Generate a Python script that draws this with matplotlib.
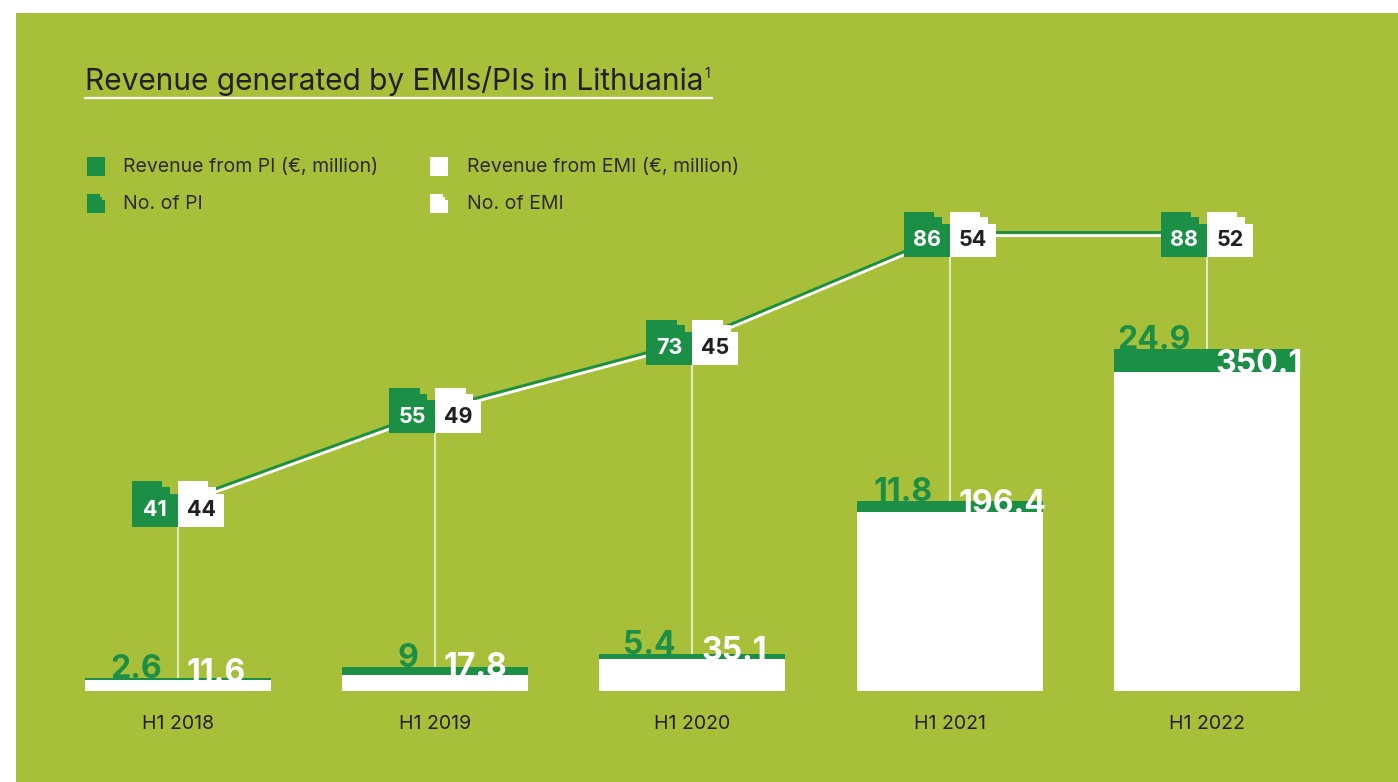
import numpy as np
import matplotlib
matplotlib.use("Agg")
import matplotlib.pyplot as plt
import matplotlib.transforms as mtransforms
from matplotlib.patches import Rectangle, Polygon
from matplotlib.lines import Line2D

plt.rcParams['font.family'] = ['Inter', 'DejaVu Sans']

periods = ["H1 2018", "H1 2019", "H1 2020", "H1 2021", "H1 2022"]
rev_pi = [2.6, 9, 5.4, 11.8, 24.9]
rev_emi = [11.6, 17.8, 35.1, 196.4, 350.1]
no_pi = [41, 55, 73, 86, 88]
no_emi = [44, 49, 45, 54, 52]

bg = "#A8BF3A"
green = "#1C8F47"
dark = "#231F20"

W, H = 1398, 782
fig = plt.figure(figsize=(W/100, H/100), dpi=100, facecolor="white")

def px(x, y):
    # pixel (from top-left) -> figure fraction
    return x/W, 1 - y/H

fig.add_artist(Rectangle((16/W, 0), 1, 1 - 13/H, transform=fig.transFigure,
                         facecolor=bg, edgecolor="none", zorder=-10))

# counts axis (boxes, line) drawn under the revenue axis
ax = fig.add_axes([0, (H-691)/H, 1, 561/H])
ax.patch.set_visible(False)
ax.set_xlim(-0.692, 4.743)
ax.set_ylim(46.9, 161.2)
ax2 = ax.twinx()
ax2.set_ylim(0, 615)
for a in (ax, ax2):
    for s in a.spines.values():
        s.set_visible(False)
    a.set_yticks([])

x = np.arange(len(periods))
total_no = np.array(no_pi) + np.array(no_emi)
bw = 0.179   # width of one count box
bh = 9.17    # height of count box

# connecting line: green over white
t_up = mtransforms.offset_copy(ax.transData, fig=fig, x=0, y=1.6, units='dots')
t_dn = mtransforms.offset_copy(ax.transData, fig=fig, x=0, y=-1.6, units='dots')
ax.plot(x, total_no, color="white", lw=2.0, transform=t_dn, zorder=2, solid_capstyle='butt')
ax.plot(x, total_no, color=green, lw=2.0, transform=t_up, zorder=2, solid_capstyle='butt')

# thin vertical guides from box down to the bars
ax.vlines(x, 46.9, total_no - bh/2, color="white", lw=1.3, alpha=0.75, zorder=1)

def step_box(x0, yc, w, h):
    yt = yc + h/2
    yb = yc - h/2
    return [(x0, yb), (x0, yt), (x0 + 0.66*w, yt), (x0 + 0.66*w, yt - 0.13*h),
            (x0 + 0.83*w, yt - 0.13*h), (x0 + 0.83*w, yt - 0.27*h),
            (x0 + w, yt - 0.27*h), (x0 + w, yb)]

for i in range(len(periods)):
    yc = total_no[i]
    ax.add_patch(Polygon(step_box(x[i] - bw, yc, bw, bh), closed=True,
                         facecolor=green, edgecolor="none", zorder=3))
    ax.add_patch(Polygon(step_box(x[i], yc, bw, bh), closed=True,
                         facecolor="white", edgecolor="none", zorder=3))
    ax.text(x[i] - bw/2, yc - 1.3, str(no_pi[i]), ha="center", va="center",
            color="white", fontsize=15.5, fontweight="bold", zorder=4)
    ax.text(x[i] + bw/2, yc - 1.3, str(no_emi[i]), ha="center", va="center",
            color=dark, fontsize=15.5, fontweight="bold", zorder=4)

# revenue bars
bar_w = 0.723
ax2.bar(x, rev_emi, width=bar_w, color="white", zorder=2)
ax2.bar(x, rev_pi, bottom=rev_emi, width=bar_w, color=green, zorder=2)
for i in range(len(periods)):
    ax2.text(x[i] - 0.064, rev_pi[i] + rev_emi[i], f"{rev_pi[i]:g}", ha="right",
             va="baseline", color=green, fontsize=23, fontweight="bold", zorder=3)
    ax2.text(x[i] + 0.034, rev_emi[i] - 1.5, f"{rev_emi[i]:g}", ha="left",
             va="baseline", color="white", fontsize=23, fontweight="bold", zorder=3)

ax.set_xticks(x, periods)
ax.tick_params(axis="x", length=0, pad=17, labelsize=14, labelcolor=dark)

# title with superscript and underline
tx, ty = px(85, 90)
title = fig.text(tx, ty, "Revenue generated by EMIs/PIs in Lithuania", fontsize=21.5,
                 color=dark, va="baseline", ha="left")
fig.canvas.draw()
bb = title.get_window_extent()
fig.text((bb.x1 + 1)/W, (H - 78)/H, "1", fontsize=10, color=dark, va="baseline")
fig.add_artist(Line2D([85/W, (bb.x1 + 8)/W], [1 - 98/H, 1 - 98/H], color="white",
                      lw=1.6, transform=fig.transFigure))

# legend
def legend_rect(x0, y0, color):
    fig.add_artist(Rectangle(px(x0, y0 + 19), 18/W, 19/H, transform=fig.transFigure,
                             facecolor=color, edgecolor="none"))

def legend_step(x0, y0, color):
    w, h = 18, 19
    pts = [(x0, y0 + h), (x0, y0), (x0 + 0.7*w, y0), (x0 + 0.7*w, y0 + 0.15*h),
           (x0 + 0.85*w, y0 + 0.15*h), (x0 + 0.85*w, y0 + 0.3*h),
           (x0 + w, y0 + 0.3*h), (x0 + w, y0 + h)]
    fig.add_artist(Polygon([px(a, b) for a, b in pts], closed=True, transform=fig.transFigure,
                           facecolor=color, edgecolor="none"))

legend_rect(87, 157, green)
legend_rect(430, 157, "white")
legend_step(87, 194, green)
legend_step(430, 194, "white")
for lx, ly, lab in [(123, 167, "Revenue from PI (€, million)"),
                    (467, 167, "Revenue from EMI (€, million)"),
                    (123, 204, "No. of PI"),
                    (467, 204, "No. of EMI")]:
    fig.text(*px(lx, ly), lab, fontsize=14, color="#2B2B2B", va="center", ha="left")

fig.savefig("out.png", dpi=100, facecolor="white")
